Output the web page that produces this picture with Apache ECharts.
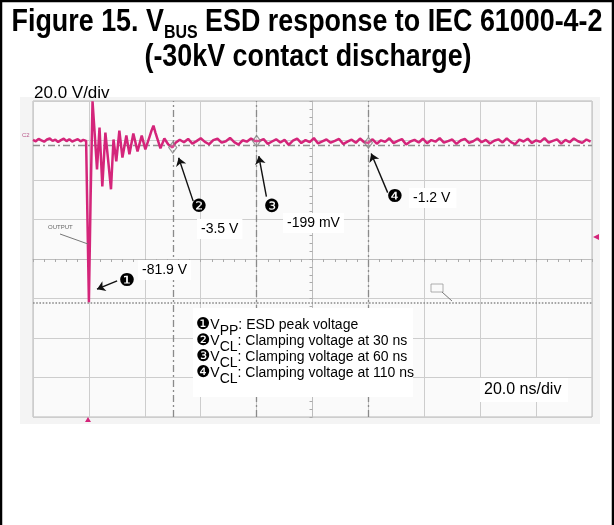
<!DOCTYPE html>
<html>
<head>
<meta charset="utf-8">
<script src="https://cdn.jsdelivr.net/npm/echarts@6.0.0/dist/echarts.min.js"></script>
<style>
  html, body { margin: 0; padding: 0; background: #fff; }
  #main { width: 614px; height: 525px; }
</style>
</head>
<body>
<div id="main"></div>
<script>
// scope settings: 20 ns/div, 20 V/div, trigger at t = 0
const timeMin = -20, timeMax = 180, timeDiv = 20;
const voltMin = -140, voltMax = 20, voltDiv = 20;

// before the discharge, 1 ns per sample from -20 ns
const preStart = -20, preStep = 1;
const preVolts = [0.3, -0.4, 0.8, 0.1, -0.6, 0.5, 1.0, -0.2, 0.4, -0.8,
                  0.2, 0.9, -0.3, 0.6, -0.5, 0.1, 0.7, -0.4, 0.3, -0.2];

// the spike and the ringing after it (read point by point)
const ringTimes = [-0.3, 0, 0.6, 1.3, 2.0, 2.9, 3.8, 4.8, 5.9, 7.0, 7.9, 8.8, 9.8, 10.9, 12.0,
                   13.4, 14.5, 15.9, 17.4, 18.9, 20.2, 21.6, 22.4, 23.1, 23.8, 24.5, 25.6, 27.0, 28.4, 29.9];
const ringVolts = [0.2, -81.9, -30, 19.8, 5, -14.6, 6.6, -23.2, 4.0, -11.6, -24.7, 0.5, -10.6, 5, -8.6,
                   2.5, -7, 3.5, -5.5, 2.5, -4.5, 1.5, 5, 7.5, 4, 3, -4, 1, -2, -3.5];

// settled part, 1.5 ns per sample from 31 ns
const postStart = 31, postStep = 1.5;
const postVolts = [
  -1.2, 0.4, -0.9, 0.8, -1.6, -0.3, 1.1, -0.7, -1.9, 0.2,
  0.9, -1.1, -0.4, 1.3, -0.8, -2.1, 0.1, -0.6, 1.0, -0.3,
  -0.2, 0.7, -1.7, -0.5, 0.6, -1.0, 0.3, -2.2, -0.1, 0.9,
  -1.3, 0.2, -0.8, 1.2, -1.5, -0.4, 0.5, -1.1, -0.2, 0.8,
  -1.8, -0.6, 0.4, -1.2, 1.0, -0.9, -1.2, 0.6, -1.6, 0.1,
  -0.7, 1.1, -1.3, -0.2, 0.7, -2.0, -0.5, 0.3, -1.0, 0.9,
  -1.4, 0.2, -0.6, 1.2, -1.1, -0.3, 0.5, -1.7, 0.0, 0.8,
  -1.2, -0.4, 1.0, -0.9, 0.3, -1.5, -0.1, 0.6, -1.0, 1.1,
  -0.8, -1.9, 0.4, -0.5, 0.9, -1.3, 0.1, -0.7, 1.2, -1.1,
  -0.2, 0.6, -1.6, 0.3, -0.9, 1.0, -0.4, -1.2, 0.5, -0.6
];

// cursor points
const cursorTimes = [30, 60, 100];
const cursorVolts = [-3.5, -0.199, -1.2];
const peakVolt = -81.9;
const refLevel = -2.5;

const legendLines = [
  ['❶', 'PP', ': ESD peak voltage'],
  ['❷', 'CL', ': Clamping voltage at 30 ns'],
  ['❸', 'CL', ': Clamping voltage at 60 ns'],
  ['❹', 'CL', ': Clamping voltage at 110 ns']
];

const wave = [];
preVolts.forEach((v, i) => wave.push([preStart + i * preStep, v]));
ringTimes.forEach((t, i) => wave.push([t, ringVolts[i]]));
postVolts.forEach((v, i) => wave.push([postStart + i * postStep, v]));

const cursors = cursorTimes.map((t, i) => [t, cursorVolts[i]]);

const FONT = "'Liberation Sans', Arial, sans-serif";
const PINK = '#d4257a';

function txt(x, y, text, size, extra) {
  return {
    type: 'text', x: x, y: y, z: 50,
    style: Object.assign({
      text: text, fontSize: size, fontFamily: FONT, fill: '#000',
      align: 'left', verticalAlign: 'middle',
      textAlign: 'left', textVerticalAlign: 'middle'
    }, extra || {})
  };
}

const graphics = [
  // scope screenshot background
  { type: 'rect', z: -10, shape: { x: 20, y: 97, width: 580, height: 327 }, style: { fill: '#f4f4f4' } },
  // figure frame
  { type: 'rect', z: 60, shape: { x: 1, y: 1, width: 612, height: 600 }, style: { fill: 'none', stroke: '#000', lineWidth: 2.5 } },
  // title
  {
    type: 'text', x: 307, y: 22, scaleX: 0.84, z: 50,
    style: {
      text: 'Figure 15. V{s|BUS} ESD response to IEC 61000-4-2',
      fontSize: 32, fontWeight: 'bold', fontFamily: FONT, fill: '#000', lineHeight: 40,
      align: 'center', verticalAlign: 'middle', textAlign: 'center', textVerticalAlign: 'middle',
      rich: { s: { fontSize: 19, fontWeight: 'bold', fontFamily: FONT, lineHeight: 16, verticalAlign: 'bottom' } }
    }
  },
  {
    type: 'text', x: 308, y: 57, scaleX: 0.84, z: 50,
    style: {
      text: '(-30kV contact discharge)',
      fontSize: 32, fontWeight: 'bold', fontFamily: FONT, fill: '#000',
      align: 'center', verticalAlign: 'middle', textAlign: 'center', textVerticalAlign: 'middle'
    }
  },
  txt(34, 93, '20.0 V/div', 17),
  // scope decorations
  txt(22, 135, 'C2', 6, { fill: '#b9588a' }),
  txt(48, 227, 'OUTPUT', 6, { fill: '#666' }),
  { type: 'line', z: 40, shape: { x1: 60, y1: 234, x2: 88, y2: 244 }, style: { stroke: '#777', lineWidth: 1 } },
  { type: 'rect', z: 40, shape: { x: 431, y: 284, width: 12, height: 8 }, style: { fill: 'none', stroke: '#999', lineWidth: 0.8 } },
  { type: 'line', z: 40, shape: { x1: 442, y1: 292, x2: 452, y2: 301 }, style: { stroke: '#777', lineWidth: 1 } },
  { type: 'polygon', z: 40, shape: { points: [[593, 237], [599, 234], [599, 240]] }, style: { fill: PINK } },
  { type: 'polygon', z: 40, shape: { points: [[88, 417], [85, 422], [91, 422]] }, style: { fill: PINK } },
  // callouts
  txt(119, 281, '❶', 18, { fontFamily: 'DejaVu Sans' }),
  txt(191, 207, '❷', 18, { fontFamily: 'DejaVu Sans' }),
  txt(264, 207, '❸', 18, { fontFamily: 'DejaVu Sans' }),
  txt(387, 197, '❹', 18, { fontFamily: 'DejaVu Sans' }),
  txt(138, 270, '-81.9 V', 14, { backgroundColor: '#fff', padding: [3, 4, 3, 4] }),
  txt(197, 229, '-3.5 V', 14, { backgroundColor: '#fff', padding: [3, 4, 3, 4] }),
  txt(283, 223, '-199 mV', 14, { backgroundColor: '#fff', padding: [3, 4, 3, 4] }),
  txt(409, 198, '-1.2 V', 14, { backgroundColor: '#fff', padding: [3, 6, 3, 4] }),
  // legend box
  { type: 'rect', z: 45, shape: { x: 193, y: 308, width: 220, height: 89 }, style: { fill: '#fff' } },
  { type: 'rect', z: 45, shape: { x: 480, y: 378, width: 88, height: 24 }, style: { fill: '#fff' } },
  txt(484, 390, '20.0 ns/div', 16)
];

legendLines.forEach((l, i) => {
  graphics.push({
    type: 'text', x: 196, y: 325 + i * 16, z: 50,
    style: {
      text: '{n|' + l[0] + '}{b|V}{s|' + l[1] + '}{b|' + l[2] + '}',
      fontSize: 14, fontFamily: FONT, fill: '#000', lineHeight: 26,
      align: 'left', verticalAlign: 'middle', textAlign: 'left', textVerticalAlign: 'middle',
      rich: {
        n: { fontFamily: 'DejaVu Sans', fontSize: 16, lineHeight: 26 },
        b: { fontFamily: FONT, fontSize: 14, lineHeight: 26 },
        s: { fontFamily: FONT, fontSize: 14, lineHeight: 14, verticalAlign: 'bottom' }
      }
    }
  });
});

const chart = echarts.init(document.getElementById('main'), null, { renderer: 'canvas' });

const hidden = { show: false };
chart.setOption({
  animation: false,
  backgroundColor: '#fff',
  grid: {
    left: 33, top: 101, width: 559, height: 316,
    show: true, backgroundColor: '#fafafa', borderColor: '#b8b8b8', borderWidth: 1
  },
  xAxis: [
    {
      type: 'value', min: timeMin, max: timeMax, interval: timeDiv,
      axisLine: hidden, axisTick: hidden, axisLabel: hidden,
      splitLine: { show: true, lineStyle: { color: '#cdcdcd', width: 1 } }
    },
    {
      type: 'value', min: timeMin, max: timeMax, interval: timeDiv, position: 'bottom', offset: -158,
      axisLine: { show: true, lineStyle: { color: '#bdbdbd' } },
      axisTick: { show: true, length: 3, lineStyle: { color: '#aaa' } },
      minorTick: { show: true, splitNumber: 5, length: 3, lineStyle: { color: '#aaa' } },
      axisLabel: hidden, splitLine: hidden
    }
  ],
  yAxis: [
    {
      type: 'value', min: voltMin, max: voltMax, interval: voltDiv,
      axisLine: hidden, axisTick: hidden, axisLabel: hidden,
      splitLine: { show: true, lineStyle: { color: '#cdcdcd', width: 1 } }
    },
    {
      type: 'value', min: voltMin, max: voltMax, interval: voltDiv, position: 'left', offset: -279.5,
      axisLine: { show: true, lineStyle: { color: '#bdbdbd' } },
      axisTick: { show: true, length: 3, lineStyle: { color: '#aaa' } },
      minorTick: { show: true, splitNumber: 5, length: 3, lineStyle: { color: '#aaa' } },
      axisLabel: hidden, splitLine: hidden
    }
  ],
  series: [
    {
      type: 'line', data: wave, showSymbol: false, z: 5, silent: true,
      lineStyle: { color: PINK, width: 2.5 },
      markLine: {
        silent: true, symbol: 'none', label: hidden, z: 3,
        data: [
          { yAxis: peakVolt, lineStyle: { color: '#8a8a8a', type: 'dotted', width: 1.6 } },
          { yAxis: refLevel, lineStyle: { color: '#8f8f8f', type: [7, 3, 2, 3], width: 1.3 } }
        ].concat(cursorTimes.map(t => ({ xAxis: t, lineStyle: { color: '#8a8a8a', type: [7, 3, 2, 3], width: 1.3 } })))
      }
    },
    {
      type: 'scatter', data: cursors, z: 6, silent: true,
      symbol: 'diamond', symbolSize: [8, 11],
      itemStyle: { color: 'rgba(255,255,255,0.2)', borderColor: '#7d7d7d', borderWidth: 1.2 },
      markLine: {
        silent: true, symbol: ['none', 'arrow'], symbolSize: 8, label: hidden, z: 20,
        lineStyle: { color: '#111', width: 1.4, type: 'solid' },
        data: [
          [{ coord: [10.1, -71.1] }, { coord: [2.9, -75.3] }],
          [{ coord: [37.3, -30.7] }, { coord: [32.1, -8.7] }],
          [{ coord: [63.5, -28.4] }, { coord: [60.8, -7.9] }],
          [{ coord: [106.9, -26.4] }, { coord: [101.0, -6.6] }]
        ]
      }
    }
  ],
  graphic: graphics
});
</script>
</body>
</html>
